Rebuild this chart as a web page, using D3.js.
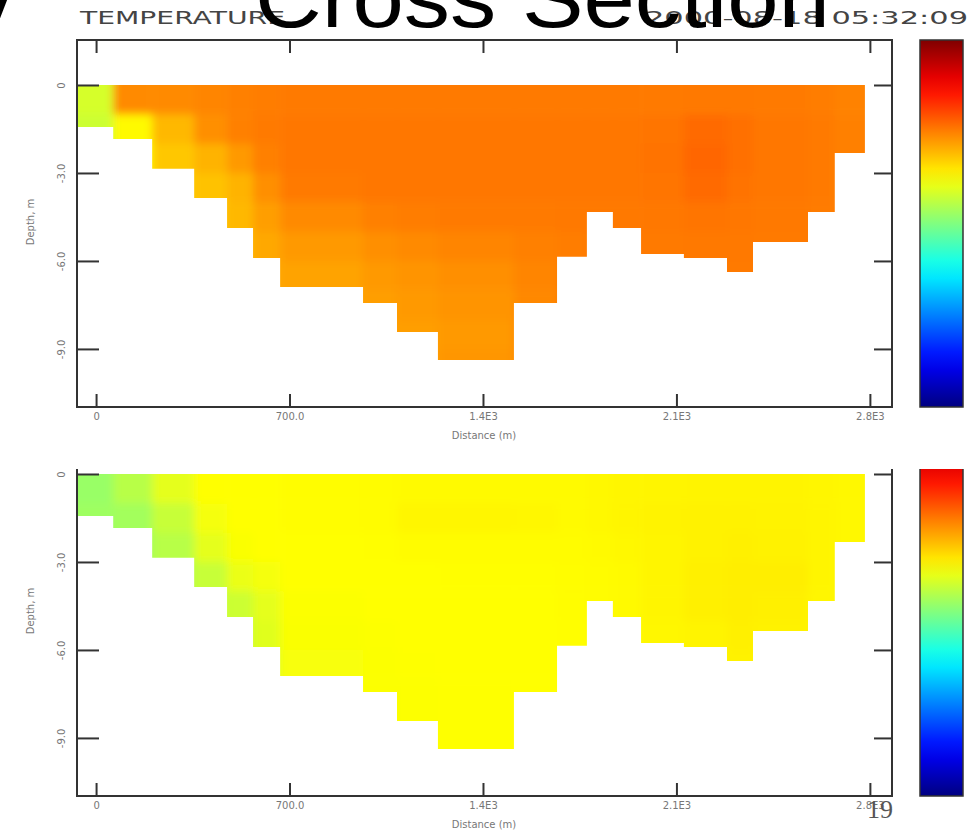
<!DOCTYPE html>
<html>
<head>
<meta charset="utf-8">
<script src="https://cdn.jsdelivr.net/npm/d3@7"></script>
<style>
  body { margin: 0; background: #fff; }
  svg { display: block; }
</style>
</head>
<body>
<div id="chart"></div>
<script>
// station column edges (m along the section) and bottom depth of each column (m)
const distEdges = [-69, 62, 203, 355, 474, 568, 666, 966, 1089, 1237, 1512, 1668, 1776, 1870, 1972, 2127, 2283, 2377, 2576, 2673, 2782];
const bottomDepth = [1.43, 1.84, 2.86, 3.85, 4.88, 5.90, 6.89, 7.43, 8.42, 9.38, 7.43, 5.86, 4.33, 4.88, 5.76, 5.90, 6.38, 5.35, 4.33, 2.32];

// colour index (0 = bottom of colour bar, 1 = top), one value per 1 m layer
const tempValues = [
  [0.585, 0.575],
  [0.74, 0.63],
  [0.74, 0.695, 0.68],
  [0.745, 0.735, 0.70, 0.685],
  [0.75, 0.75, 0.725, 0.70, 0.695],
  [0.752, 0.755, 0.75, 0.735, 0.72, 0.71],
  [0.755, 0.758, 0.758, 0.755, 0.74, 0.725, 0.715],
  [0.755, 0.758, 0.758, 0.758, 0.75, 0.735, 0.725, 0.72],
  [0.755, 0.758, 0.758, 0.758, 0.752, 0.74, 0.73, 0.725, 0.72],
  [0.755, 0.758, 0.758, 0.758, 0.755, 0.745, 0.735, 0.73, 0.725, 0.728],
  [0.755, 0.758, 0.758, 0.758, 0.755, 0.75, 0.745, 0.742],
  [0.755, 0.758, 0.758, 0.758, 0.756, 0.752],
  [0.755, 0.758, 0.758, 0.758, 0.756],
  [0.755, 0.758, 0.758, 0.758, 0.756],
  [0.755, 0.76, 0.762, 0.76, 0.757, 0.755],
  [0.756, 0.77, 0.775, 0.77, 0.76, 0.756],
  [0.756, 0.765, 0.765, 0.762, 0.758, 0.756, 0.755],
  [0.755, 0.758, 0.758, 0.758, 0.756, 0.755],
  [0.752, 0.755, 0.755, 0.755, 0.754],
  [0.748, 0.75, 0.75]
];
const secondValues = [
  [0.525, 0.53],
  [0.555, 0.535],
  [0.60, 0.57, 0.555],
  [0.625, 0.615, 0.60, 0.57],
  [0.625, 0.625, 0.62, 0.605, 0.575],
  [0.625, 0.625, 0.625, 0.615, 0.60, 0.595],
  [0.627, 0.627, 0.625, 0.625, 0.622, 0.62, 0.618],
  [0.628, 0.628, 0.626, 0.625, 0.625, 0.623, 0.622, 0.622],
  [0.63, 0.634, 0.628, 0.625, 0.625, 0.625, 0.624, 0.623, 0.623],
  [0.63, 0.634, 0.628, 0.626, 0.625, 0.625, 0.625, 0.624, 0.624, 0.624],
  [0.63, 0.633, 0.628, 0.626, 0.625, 0.625, 0.625, 0.625],
  [0.63, 0.63, 0.628, 0.627, 0.627, 0.626],
  [0.632, 0.632, 0.63, 0.628, 0.628],
  [0.634, 0.635, 0.632, 0.63, 0.63],
  [0.635, 0.637, 0.635, 0.635, 0.635, 0.633],
  [0.636, 0.638, 0.638, 0.64, 0.64, 0.636],
  [0.636, 0.638, 0.64, 0.642, 0.642, 0.64, 0.638],
  [0.636, 0.637, 0.638, 0.642, 0.64, 0.638],
  [0.634, 0.635, 0.635, 0.635, 0.634],
  [0.632, 0.632, 0.632]
];

const xTicks = [0, 700, 1400, 2100, 2800];
const xTickLabels = ["0", "700.0", "1.4E3", "2.1E3", "2.8E3"];
const yTicks = [0, 3, 6, 9];
const yTickLabels = ["0", "-3.0", "-6.0", "-9.0"];

const W = 971, H = 831;
const svg = d3.select("#chart").append("svg").attr("width", W).attr("height", H);
const defs = svg.append("defs");

// jet colour map
const clamp = v => Math.max(0, Math.min(1, v));
const jet = t => d3.rgb(
  255 * clamp(1.5 - Math.abs(4 * t - 3)),
  255 * clamp(1.5 - Math.abs(4 * t - 2)),
  255 * clamp(1.5 - Math.abs(4 * t - 1))
).formatHex();
const color = d3.scaleSequential(jet).domain([0, 1]);

defs.append("filter").attr("id", "soft")
  .attr("x", "-5%").attr("y", "-5%").attr("width", "110%").attr("height", "110%")
  .append("feGaussianBlur").attr("stdDeviation", 4);

const grad = defs.append("linearGradient").attr("id", "jetbar")
  .attr("x1", 0).attr("y1", 1).attr("x2", 0).attr("y2", 0);
d3.range(0, 1.0001, 0.05).forEach(t => grad.append("stop").attr("offset", t).attr("stop-color", color(t)));

const x = d3.scaleLinear().domain([-69, 2880]).range([77, 892]);
const depthMax = 10.98;

function drawPanel(id, top, values, clipTop) {
  const y = d3.scaleLinear().domain([-1.534, depthMax]).range([top, top + 367]);
  const g = svg.append("g");
  if (clipTop != null) {
    defs.append("clipPath").attr("id", id + "-cut")
      .append("rect").attr("x", 0).attr("y", clipTop).attr("width", W).attr("height", H - clipTop);
    g.attr("clip-path", `url(#${id}-cut)`);
  }

  // bathymetry outline
  let pts = [[x(distEdges[0]), y(0)]];
  bottomDepth.forEach((b, i) => {
    pts.push([x(distEdges[i]), y(b)], [x(distEdges[i + 1]), y(b)]);
  });
  pts.push([x(distEdges[distEdges.length - 1]), y(0)]);
  defs.append("clipPath").attr("id", id + "-bathy")
    .append("path").attr("d", d3.line()(pts) + "Z");

  const cells = [];
  values.forEach((col, i) => {
    col.forEach((v, j) => {
      const last = j === col.length - 1;
      cells.push({
        x0: i === 0 ? distEdges[0] - 150 : distEdges[i],
        x1: i === values.length - 1 ? distEdges[i + 1] + 150 : distEdges[i + 1],
        d0: j === 0 ? -1 : j,
        d1: last ? depthMax + 1 : j + 1,
        v
      });
    });
  });

  g.append("g").attr("clip-path", `url(#${id}-bathy)`)
    .append("g").attr("filter", "url(#soft)")
    .selectAll("rect").data(cells).join("rect")
    .attr("x", d => x(d.x0))
    .attr("y", d => y(d.d0))
    .attr("width", d => x(d.x1) - x(d.x0) + 0.5)
    .attr("height", d => y(d.d1) - y(d.d0) + 0.5)
    .attr("fill", d => color(d.v));

  // frame
  g.append("rect").attr("x", 77).attr("y", top).attr("width", 815).attr("height", 367)
    .attr("fill", "none").attr("stroke", "#333").attr("stroke-width", 2);

  const styleAxis = sel => {
    sel.select(".domain").remove();
    sel.selectAll("line").attr("stroke", "#333").attr("stroke-width", 2);
    sel.selectAll("text").attr("fill", "#777").style("font-family", "DejaVu Sans").style("font-size", "10px");
  };

  g.append("g").attr("transform", `translate(0,${top + 367})`)
    .call(d3.axisBottom(x).tickValues(xTicks).tickSize(-13).tickSizeOuter(0).tickPadding(6)
      .tickFormat((d, i) => xTickLabels[i]))
    .call(styleAxis);
  g.append("g").attr("transform", `translate(0,${top})`)
    .call(d3.axisTop(x).tickValues(xTicks).tickSize(-13).tickSizeOuter(0).tickFormat(""))
    .call(styleAxis);
  const yl = g.append("g").attr("transform", "translate(77,0)")
    .call(d3.axisLeft(y).tickValues(yTicks).tickSize(-22).tickSizeOuter(0)
      .tickFormat((d, i) => yTickLabels[i]))
    .call(styleAxis);
  yl.selectAll("text").attr("transform", "rotate(-90)")
    .attr("x", 0).attr("y", -12).attr("dy", 0).attr("text-anchor", "middle");
  g.append("g").attr("transform", "translate(892,0)")
    .call(d3.axisRight(y).tickValues(yTicks).tickSize(-18).tickSizeOuter(0).tickFormat(""))
    .call(styleAxis);

  g.append("text").attr("x", 484).attr("y", top + 399)
    .attr("text-anchor", "middle").attr("fill", "#777")
    .style("font-family", "DejaVu Sans").style("font-size", "10px")
    .text("Distance (m)");
  g.append("text").attr("transform", `translate(34,${top + 182}) rotate(-90)`)
    .attr("text-anchor", "middle").attr("fill", "#777")
    .style("font-family", "DejaVu Sans").style("font-size", "10px")
    .text("Depth, m");

  // colour bar
  g.append("rect").attr("x", 920).attr("y", top).attr("width", 43).attr("height", 367)
    .attr("fill", "url(#jetbar)").attr("stroke", "#333").attr("stroke-width", 1.5);
}

drawPanel("p1", 40, tempValues, null);
drawPanel("p2", 429, secondValues, 469);

svg.append("text").attr("x", 80).attr("y", 24)
  .attr("textLength", 205).attr("lengthAdjust", "spacingAndGlyphs")
  .attr("fill", "#444").style("font-family", "DejaVu Sans").style("font-size", "17px")
  .text("TEMPERATURE");
svg.append("text").attr("x", 645).attr("y", 24)
  .attr("textLength", 323).attr("lengthAdjust", "spacingAndGlyphs")
  .attr("fill", "#444").style("font-family", "DejaVu Sans").style("font-size", "18px")
  .text("2000-08-18 05:32:09");

svg.append("text").attr("x", -28).attr("y", 27)
  .attr("fill", "#000").style("font-family", "Liberation Sans Narrow, Liberation Sans").style("font-size", "84px")
  .text("y");
svg.append("text").attr("x", 255).attr("y", 27)
  .attr("textLength", 575).attr("lengthAdjust", "spacingAndGlyphs")
  .attr("fill", "#000").style("font-family", "Liberation Sans Narrow, Liberation Sans").style("font-size", "84px")
  .text("Cross Section");

svg.append("text").attr("x", 867).attr("y", 818)
  .attr("fill", "#555").style("font-family", "Liberation Serif, DejaVu Serif").style("font-size", "26px")
  .text("19");
</script>
</body>
</html>
